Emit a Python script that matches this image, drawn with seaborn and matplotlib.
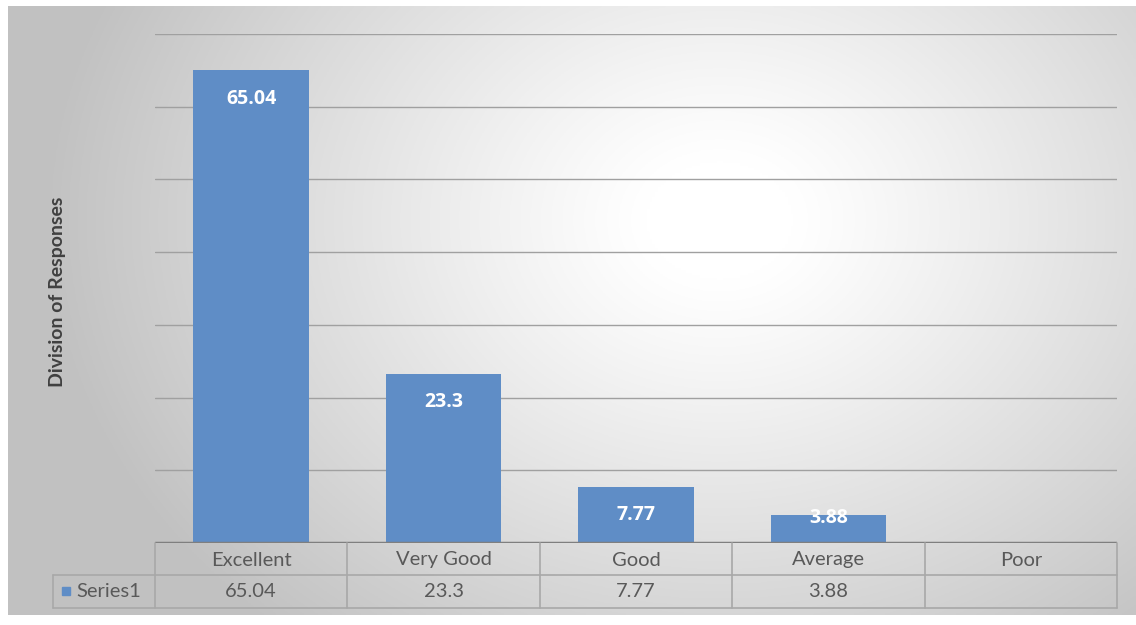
import numpy as np
import pandas as pd
import matplotlib
matplotlib.use("Agg")
import matplotlib.pyplot as plt
import seaborn as sns

# dados
categorias = ['Excellent', 'Very Good', 'Good', 'Average', 'Poor']
valores = [65.04, 23.3, 7.77, 3.88]
rotulos_tabela = ['65.04', '23.3', '7.77', '3.88', '']
serie = 'Series1'

df = pd.DataFrame({'cat': categorias[:len(valores)], 'val': valores})

sns.set_theme(style="white")
plt.rcParams['font.family'] = ['Lato', 'DejaVu Sans']

W, H = 1136, 625
fig = plt.figure(figsize=(W / 100, H / 100), dpi=100)
fig.patch.set_facecolor('white')

# fundo com gradiente radial (estilo Excel)
bg = fig.add_axes([8 / W, (H - 615) / H, (W - 8) / W, (615 - 6) / H])
xx, yy = np.meshgrid(np.linspace(8, W, 400), np.linspace(6, 615, 250))
r = np.sqrt(((xx - 720) / 620) ** 2 + ((yy - 220) / 500) ** 2)
g = np.clip(1.0 - 0.25 * np.clip(r - 0.12, 0, None) ** 1.1, 0.76, 1.0)
bg.imshow(np.dstack([g, g, g]), aspect='auto', extent=[0, 1, 0, 1])
bg.set_axis_off()

# área do gráfico
x0, x1 = 155, 1117
y_top, y_base = 34, 543
ax = fig.add_axes([x0 / W, (H - y_base) / H, (x1 - x0) / W, (y_base - y_top) / H])
ax.patch.set_alpha(0)

sns.barplot(data=df, x='cat', y='val', order=categorias, color='#5f8dc6',
            width=0.6, saturation=1, linewidth=0, edgecolor='none', ax=ax, zorder=3)
ax.set_ylim(0, 70)
ax.set_xlim(-0.5, 4.5)
for v in range(10, 71, 10):
    ax.axhline(v, color='#a0a0a0', lw=1, zorder=1)
ax.axhline(0, color='#7f7f7f', lw=2.5, zorder=4)
sns.despine(ax=ax, left=True, bottom=True)
ax.set_xticks([])
ax.set_yticks([])
ax.set_xlabel('')
ax.set_ylabel('')

# rótulos dentro das barras (barra curta: rótulo sobe até o topo, como no Excel)
px_por_unidade = (y_base - y_top) / 70
for i, v in enumerate(valores):
    altura_px = v * px_por_unidade
    desloc = -20.5 if altura_px > 45 else -2
    ax.annotate(f'{v:g}', (i, v), xytext=(0, desloc), textcoords='offset points',
                ha='center', va='center', color='white', fontsize=14,
                fontweight='bold', family=['Open Sans', 'DejaVu Sans'], zorder=5)

# título do eixo y
fig.text(57 / W, 1 - 292 / H, 'Division of Responses', rotation=90,
         ha='center', va='center', fontsize=14, fontweight='bold', color='#404040')

# tabela de dados
tab = fig.add_axes([0, 0, 1, 1])
tab.set_xlim(0, W)
tab.set_ylim(H, 0)
tab.set_axis_off()
linha = dict(color='#a8a8a8', lw=1.2)
col_w = (x1 - x0) / len(categorias)
r1, r2, r3 = y_base, 575, 608
leg_x = 53
tab.plot([x0, x1], [r2, r2], **linha)
tab.plot([leg_x, x0], [r2, r2], **linha)
tab.plot([leg_x, x1], [r3, r3], **linha)
tab.plot([leg_x, leg_x], [r2, r3], **linha)
for k in range(len(categorias) + 1):
    xx_ = x0 + k * col_w
    tab.plot([xx_, xx_], [r1, r3], **linha)
for k, (c, t) in enumerate(zip(categorias, rotulos_tabela)):
    cx = x0 + (k + 0.5) * col_w
    tab.text(cx, (r1 + r2) / 2 + 1, c, ha='center', va='center', fontsize=14.5, color='#595959')
    tab.text(cx, (r2 + r3) / 2, t, ha='center', va='center', fontsize=14.5, color='#595959')
tab.add_patch(plt.Rectangle((62, 587), 8, 8, color='#5f8dc6'))
tab.text(76, (r2 + r3) / 2, serie, ha='left', va='center', fontsize=14.5, color='#595959')

fig.savefig('out.png', dpi=100)
